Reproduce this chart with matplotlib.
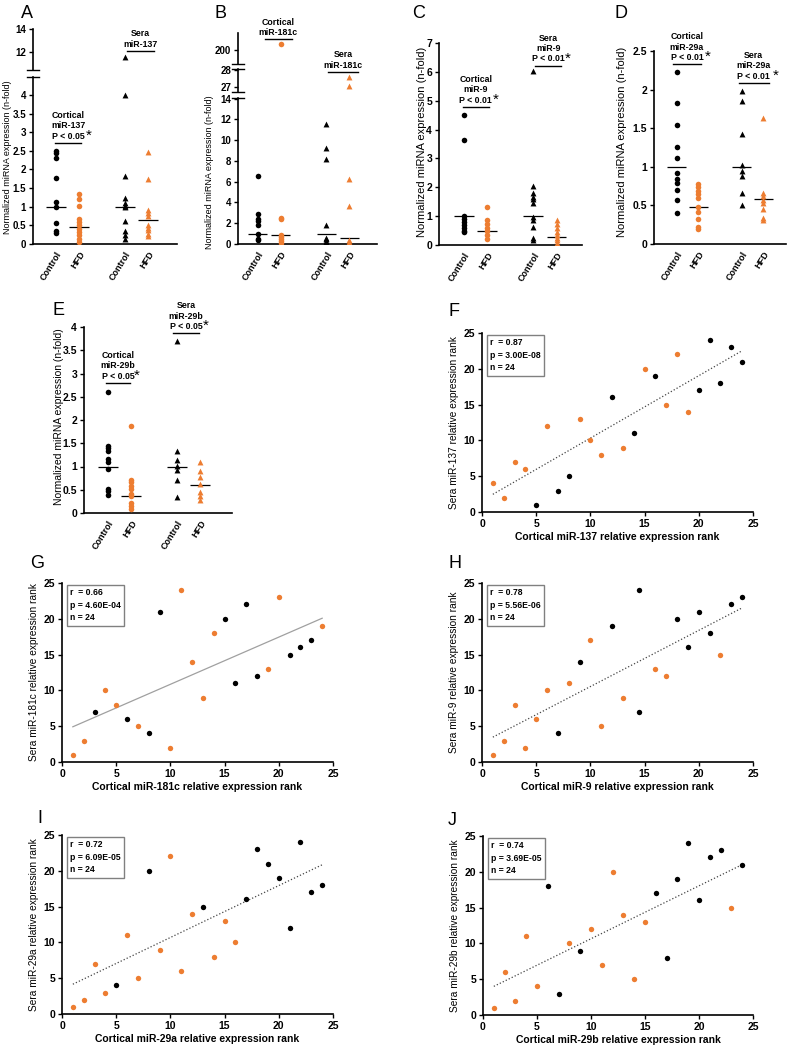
import numpy as np
import matplotlib
matplotlib.use('Agg')
import matplotlib.pyplot as plt
from matplotlib.ticker import FuncFormatter

plt.rcParams['font.family'] = ['Liberation Sans', 'DejaVu Sans']

ORANGE = '#ED7D31'
W, H = 787, 1050

# --- strip plot data (A-E): cortical ctrl, cortical HFD, sera ctrl, sera HFD
cats = ['Control', 'HFD', 'Control', 'HFD']

a_ctx_ctrl = [2.5, 2.44, 2.3, 1.78, 1.13, 1.0, 0.55, 0.35, 0.3]
a_ctx_hfd = [1.33, 1.22, 1.02, 0.68, 0.59, 0.5, 0.41, 0.32, 0.23, 0.14, 0.05]
a_sera_ctrl = [11.5, 4.0, 1.83, 1.24, 1.1, 1.03, 0.98, 0.61, 0.35, 0.24, 0.13]
a_sera_hfd = [2.46, 1.74, 0.9, 0.83, 0.74, 0.5, 0.43, 0.37, 0.28, 0.21]
a_means = [1.0, 0.46, 1.0, 0.64]

b_ctx_ctrl = [6.5, 2.9, 2.45, 2.2, 1.85, 1.0, 0.45, 0.35]
b_ctx_hfd = [206, 2.55, 2.4, 0.9, 0.7, 0.5, 0.3, 0.1]
b_sera_ctrl = [11.5, 9.2, 8.2, 1.85, 0.55, 0.45, 0.3, 0.15]
b_sera_hfd = [27.55, 27.02, 6.25, 3.7, 0.4, 0.2, 0.02]
b_means = [1.0, 0.88, 1.0, 0.58]

c_ctx_ctrl = [4.5, 3.63, 1.0, 0.9, 0.8, 0.7, 0.6, 0.5, 0.45]
c_ctx_hfd = [1.3, 0.87, 0.73, 0.59, 0.47, 0.35, 0.22]
c_sera_ctrl = [6.02, 2.05, 1.8, 1.68, 1.58, 1.47, 0.98, 0.87, 0.64, 0.24, 0.17]
c_sera_hfd = [0.87, 0.73, 0.58, 0.44, 0.35, 0.25, 0.17, 0.08]
c_means = [1.0, 0.47, 1.0, 0.29]

d_ctx_ctrl = [2.23, 1.83, 1.54, 1.26, 1.11, 0.92, 0.84, 0.79, 0.70, 0.57, 0.40]
d_ctx_hfd = [0.78, 0.74, 0.69, 0.65, 0.59, 0.48, 0.41, 0.33, 0.22, 0.19]
d_sera_ctrl = [1.98, 1.85, 1.43, 1.02, 0.94, 0.88, 0.66, 0.5]
d_sera_hfd = [1.63, 0.66, 0.62, 0.57, 0.53, 0.45, 0.34, 0.31]
d_means = [1.0, 0.48, 1.0, 0.58]

e_ctx_ctrl = [2.6, 1.45, 1.39, 1.33, 1.17, 1.09, 0.95, 0.51, 0.47, 0.38]
e_ctx_hfd = [1.88, 0.72, 0.66, 0.59, 0.51, 0.41, 0.36, 0.21, 0.14, 0.09]
e_sera_ctrl = [3.69, 1.34, 1.14, 1.01, 0.93, 0.7, 0.34]
e_sera_hfd = [1.09, 0.91, 0.78, 0.62, 0.46, 0.36, 0.27]
e_means = [1.0, 0.37, 1.0, 0.6]

# --- rank scatter data (F-J): control (black) and HFD (orange)
f_ctrl_x = [5, 7, 8, 12, 14, 16, 20, 21, 22, 23, 24]
f_ctrl_y = [1, 3, 5, 16, 11, 19, 17, 24, 18, 23, 21]
f_hfd_x = [1, 2, 3, 4, 6, 9, 10, 11, 13, 15, 17, 18, 19]
f_hfd_y = [4, 2, 7, 6, 12, 13, 10, 8, 9, 20, 15, 22, 14]

g_ctrl_x = [3, 6, 8, 9, 15, 16, 17, 18, 21, 22, 23]
g_ctrl_y = [7, 6, 4, 21, 20, 11, 22, 12, 15, 16, 17]
g_hfd_x = [1, 2, 4, 5, 7, 10, 11, 12, 13, 14, 19, 20, 24]
g_hfd_y = [1, 3, 10, 8, 5, 2, 24, 14, 9, 18, 13, 23, 19]

h_ctrl_x = [7, 9, 12, 14.5, 14.5, 18, 19, 20, 21, 23, 24]
h_ctrl_y = [4, 14, 19, 24, 7, 20, 16, 21, 18, 22, 23]
h_hfd_x = [1, 2, 3, 4, 5, 6, 8, 10, 11, 13, 16, 17, 22]
h_hfd_y = [1, 3, 8, 2, 6, 10, 11, 17, 5, 9, 13, 12, 15]

i_ctrl_x = [5, 8, 13, 17, 18, 19, 20, 21, 22, 23, 24]
i_ctrl_y = [4, 20, 15, 16, 23, 21, 19, 12, 24, 17, 18]
i_hfd_x = [1, 2, 3, 4, 6, 7, 9, 10, 11, 12, 14, 15, 16]
i_hfd_y = [1, 2, 7, 3, 11, 5, 9, 22, 6, 14, 8, 13, 10]

j_ctrl_x = [6, 7, 9, 16, 17, 18, 19, 20, 21, 22, 24]
j_ctrl_y = [18, 3, 9, 17, 8, 19, 24, 16, 22, 23, 21]
j_hfd_x = [1, 2, 3, 4, 5, 8, 10, 11, 12, 13, 14, 15, 23]
j_hfd_y = [1, 6, 2, 11, 4, 10, 12, 7, 20, 14, 5, 13, 15]

stats = {
    'F': 'r  = 0.87\np = 3.00E-08\nn = 24',
    'G': 'r  = 0.66\np = 4.60E-04\nn = 24',
    'H': 'r  = 0.78\np = 5.56E-06\nn = 24',
    'I': 'r  = 0.72\np = 6.09E-05\nn = 24',
    'J': 'r  = 0.74\np = 3.69E-05\nn = 24',
}

fig = plt.figure(figsize=(W / 100, H / 100), dpi=100)


def px_axes(x0, y0, x1, y1):
    return fig.add_axes([x0 / W, 1 - y1 / H, (x1 - x0) / W, (y1 - y0) / H])


def style_strip(ax, bottom, fs):
    ax.spines['top'].set_visible(False)
    ax.spines['right'].set_visible(False)
    for s in ('left', 'bottom'):
        ax.spines[s].set_linewidth(1.2)
    ax.tick_params(axis='y', direction='out', length=3, width=1, pad=2, labelsize=fs)
    ax.yaxis.set_major_formatter(FuncFormatter(lambda v, p: '%g' % v))
    for lab in ax.get_yticklabels():
        lab.set_fontweight('bold')
    if bottom:
        ax.set_xticks([1, 2, 4, 5])
        ax.set_xticklabels(cats, rotation=58, ha='right', va='top',
                           rotation_mode='anchor', fontsize=6.5, fontweight='bold')
        ax.tick_params(axis='x', length=0, pad=4)
    else:
        ax.spines['bottom'].set_visible(False)
        ax.set_xticks([])
    ax.patch.set_alpha(0)


def draw_groups(ax, groups, means):
    pos = [1, 2, 4, 5]
    marks = ['o', 'o', '^', '^']
    cols = ['black', ORANGE, 'black', ORANGE]
    for p, vals, m, c, mu in zip(pos, groups, marks, cols, means):
        ax.scatter(np.full(len(vals), p), vals, marker=m, s=18 if m == '^' else 16,
                   color=c, linewidths=0, zorder=3)
        ax.hlines(mu, p - 0.43, p + 0.43, color='black', lw=0.9, zorder=2)


def annot(ax, xl, xr, yb, text, star=True):
    ax.plot([xl, xr], [yb, yb], color='black', lw=1, clip_on=False)
    ax.annotate(text, xy=((xl + xr) / 2, yb), xytext=(0, 1.5), textcoords='offset points',
                ha='center', va='bottom', fontsize=6.3, fontweight='bold', linespacing=1.2,
                annotation_clip=False)
    if star:
        ax.annotate('*', xy=(xr, yb), xytext=(5, 5), textcoords='offset points',
                    ha='center', va='center', fontsize=11, annotation_clip=False)


def break_mark(ax, where, width_px):
    dx = 6 / width_px
    ax.plot([-dx, dx], [where, where], transform=ax.transAxes, color='black',
            lw=1, clip_on=False)


def ylab(x, y, fs):
    fig.text(x / W, 1 - y / H, 'Normalized miRNA expression (n-fold)', rotation=90,
             ha='center', va='center', fontsize=fs)


def letter(x, y, s):
    fig.text(x / W, 1 - y / H, s, fontsize=13, ha='left', va='baseline')


# ---------------- A (broken axis)
a_groups = [a_ctx_ctrl, a_ctx_hfd, a_sera_ctrl, a_sera_hfd]
a_up = px_axes(33, 29, 177, 70)
a_lo = px_axes(33, 77, 177, 244)
for ax in (a_up, a_lo):
    draw_groups(ax, a_groups, a_means)
    ax.set_xlim(0, 6.25)
a_up.set_ylim(10.4, 14)
a_up.set_yticks([12, 14])
a_lo.set_ylim(0, 4.48)
a_lo.set_yticks(np.arange(0, 4.01, 0.5))
style_strip(a_up, False, 7)
style_strip(a_lo, True, 7)
break_mark(a_up, 0, 144)
break_mark(a_lo, 1, 144)
annot(a_lo, 0.95, 2.1, 2.71, 'Cortical\nmiR-137\nP < 0.05')
annot(a_up, 4.1, 5.25, 12.09, 'Sera\nmiR-137', star=False)
ylab(8, 157, 6.5)
letter(21, 18, 'A')

# ---------------- B (two breaks)
b_groups = [b_ctx_ctrl, b_ctx_hfd, b_sera_ctrl, b_sera_hfd]
b_up = px_axes(238, 33, 377, 64)
b_mid = px_axes(238, 69, 377, 92)
b_lo = px_axes(238, 98, 377, 244)
for ax in (b_up, b_mid, b_lo):
    draw_groups(ax, b_groups, b_means)
    ax.set_xlim(0.15, 6.2)
b_up.set_ylim(186, 217)
b_up.set_yticks([200])
b_mid.set_ylim(26.7, 28.03)
b_mid.set_yticks([27, 28])
b_lo.set_ylim(0, 14.05)
b_lo.set_yticks(np.arange(0, 15, 2))
style_strip(b_up, False, 7)
style_strip(b_mid, False, 7)
style_strip(b_lo, True, 7)
break_mark(b_up, 0, 139)
break_mark(b_mid, 1, 139)
break_mark(b_mid, 0, 139)
break_mark(b_lo, 1, 139)
annot(b_up, 1.32, 2.5, 211, 'Cortical\nmiR-181c', star=False)
annot(b_mid, 4.06, 5.37, 27.86, 'Sera\nmiR-181c', star=False)
ylab(210, 172, 6.5)
letter(215, 18, 'B')

# ---------------- C
ax = px_axes(439, 43, 582, 245)
draw_groups(ax, [c_ctx_ctrl, c_ctx_hfd, c_sera_ctrl, c_sera_hfd], c_means)
ax.set_xlim(-0.07, 6.1)
ax.set_ylim(0, 7)
ax.set_yticks(range(0, 8))
style_strip(ax, True, 7.5)
annot(ax, 0.96, 2.07, 4.79, 'Cortical\nmiR-9\nP < 0.01')
annot(ax, 4.09, 5.2, 6.22, 'Sera\nmiR-9\nP < 0.01')
ylab(422, 142, 8)
letter(412, 18, 'C')

# ---------------- D
ax = px_axes(654, 51, 786, 244)
draw_groups(ax, [d_ctx_ctrl, d_ctx_hfd, d_sera_ctrl, d_sera_hfd], d_means)
ax.set_xlim(-0.05, 6.05)
ax.set_ylim(0, 2.5)
ax.set_yticks(np.arange(0, 2.51, 0.5))
style_strip(ax, True, 7.5)
annot(ax, 0.85, 2.1, 2.33, 'Cortical\nmiR-29a\nP < 0.01')
annot(ax, 3.86, 5.26, 2.09, 'Sera\nmiR-29a\nP < 0.01')
ylab(622, 142, 8)
letter(614, 18, 'D')

# ---------------- E
ax = px_axes(84, 327, 232, 513)
draw_groups(ax, [e_ctx_ctrl, e_ctx_hfd, e_sera_ctrl, e_sera_hfd], e_means)
ax.set_xlim(-0.04, 6.4)
ax.set_ylim(0, 4)
ax.set_yticks(np.arange(0, 4.01, 0.5))
style_strip(ax, True, 7.5)
annot(ax, 0.91, 1.96, 2.8, 'Cortical\nmiR-29b\nP < 0.05')
annot(ax, 3.83, 4.96, 3.87, 'Sera\nmiR-29b\nP < 0.05')
ylab(59, 417, 7.5)
letter(53, 315, 'E')


# ---------------- F-J rank scatters
def rank_panel(box, cx, cy, hx, hy, mir, key, line_style, line_col):
    ax = px_axes(*box)
    ax.scatter(cx, cy, s=15, color='black', linewidths=0, zorder=3)
    ax.scatter(hx, hy, s=15, color=ORANGE, linewidths=0, zorder=3)
    allx = np.array(cx + hx, dtype=float)
    ally = np.array(cy + hy, dtype=float)
    k, b = np.polyfit(allx, ally, 1)
    xs = np.array([allx.min(), allx.max()])
    ax.plot(xs, k * xs + b, linestyle=line_style, color=line_col, lw=0.9, zorder=2)
    ax.set_xlim(0, 25)
    ax.set_ylim(0, 25)
    ax.set_xticks(range(0, 26, 5))
    ax.set_yticks(range(0, 26, 5))
    ax.spines['top'].set_visible(False)
    ax.spines['right'].set_visible(False)
    for s in ('left', 'bottom'):
        ax.spines[s].set_linewidth(1.2)
    ax.tick_params(direction='out', length=3, width=1, pad=2, labelsize=7.5)
    for lab in ax.get_xticklabels() + ax.get_yticklabels():
        lab.set_fontweight('bold')
    ax.set_xlabel('Cortical %s relative expression rank' % mir, fontsize=7.5,
                  fontweight='bold', labelpad=2)
    ax.set_ylabel('Sera %s relative expression rank' % mir, fontsize=7.3, labelpad=3)
    ax.text(0.03, 0.97, stats[key], transform=ax.transAxes, ha='left', va='top',
            fontsize=6.2, fontweight='bold', linespacing=1.5,
            bbox=dict(boxstyle='square,pad=0.4', fc='white', ec='#808080', lw=1))
    return ax


rank_panel((482, 333, 753, 512), f_ctrl_x, f_ctrl_y, f_hfd_x, f_hfd_y, 'miR-137', 'F', ':', '#444444')
letter(448, 316, 'F')
rank_panel((62, 583, 333, 762), g_ctrl_x, g_ctrl_y, g_hfd_x, g_hfd_y, 'miR-181c', 'G', '-', '#a0a0a0')
letter(30, 568, 'G')
rank_panel((482, 583, 753, 762), h_ctrl_x, h_ctrl_y, h_hfd_x, h_hfd_y, 'miR-9', 'H', ':', '#444444')
letter(448, 568, 'H')
rank_panel((62, 835, 333, 1014), i_ctrl_x, i_ctrl_y, i_hfd_x, i_hfd_y, 'miR-29a', 'I', ':', '#444444')
letter(37, 823, 'I')
rank_panel((483, 836, 753, 1015), j_ctrl_x, j_ctrl_y, j_hfd_x, j_hfd_y, 'miR-29b', 'J', ':', '#444444')
letter(448, 825, 'J')

fig.savefig('out.png', dpi=100)
